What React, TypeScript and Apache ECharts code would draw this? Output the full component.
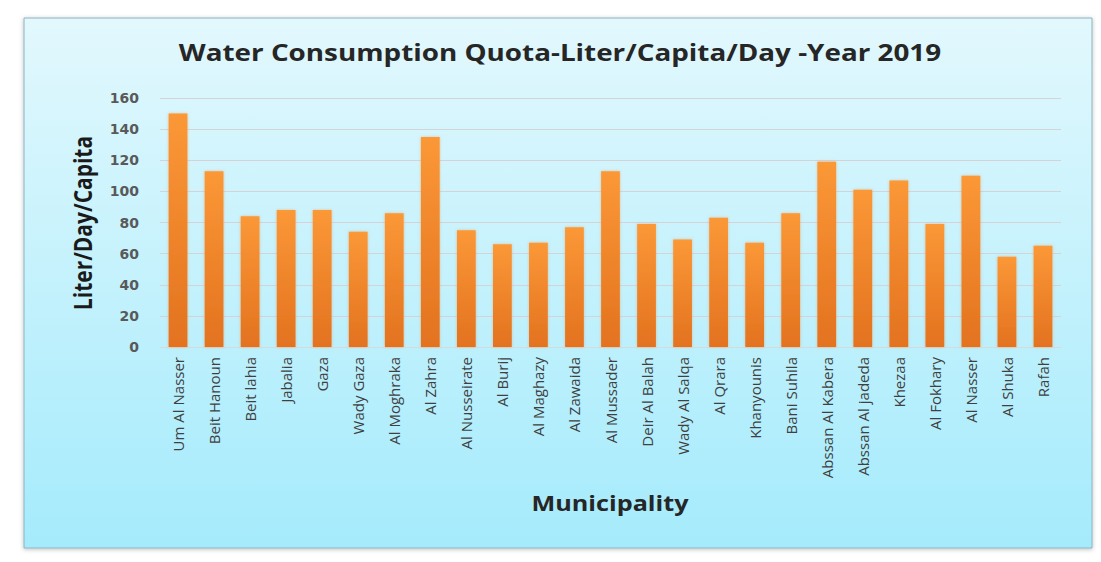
import React, { useEffect, useRef } from "react";
import * as echarts from "echarts";

const categories = [
  "Um Al Nasser", "Beit Hanoun", "Beit lahia", "Jabalia", "Gaza", "Wady Gaza",
  "Al Moghraka", "Al Zahra", "Al Nusseirate", "Al Burij", "Al Maghazy", "Al Zawaida",
  "Al Mussader", "Deir Al Balah", "Wady Al Salqa", "Al Qrara", "Khanyounis",
  "Bani Suhila", "Abssan Al Kabera", "Abssan Al jadeda", "Khezaa", "Al Fokhary",
  "Al Nasser", "Al Shuka", "Rafah",
];
const quota = [
  150, 113, 84, 88, 88, 74, 86, 135, 75, 66, 67, 77, 113, 79, 69,
  83, 67, 86, 119, 101, 107, 79, 110, 58, 65,
];
const yTicks = { min: 0, max: 160, interval: 20 };

const titleText = "Water Consumption Quota-Liter/Capita/Day -Year 2019";
const yName = "Liter/Day/Capita";
const xName = "Municipality";

export default function App() {
  const ref = useRef<HTMLDivElement>(null);
  useEffect(() => {
    if (!ref.current) return;
    const chart = echarts.init(ref.current, null, { renderer: "svg" });
    const font = "'Open Sans', sans-serif";
    chart.setOption({
      animation: false,
      backgroundColor: "#ffffff",
      textStyle: { fontFamily: font },
      graphic: [
        {
          type: "rect",
          z: -10,
          silent: true,
          shape: { x: 24, y: 18, width: 1068, height: 530 },
          style: {
            fill: new echarts.graphic.LinearGradient(0, 0, 0, 1, [
              { offset: 0, color: "#e2f8fd" },
              { offset: 1, color: "#a5ebfc" },
            ]),
            stroke: "#8ab4c2",
            lineWidth: 1,
            shadowBlur: 4,
            shadowColor: "rgba(0,0,0,0.25)",
            shadowOffsetY: 1,
          },
        },
        {
          type: "text",
          x: 560,
          y: 52,
          scaleX: 1.21,
          silent: true,
          style: {
            text: titleText,
            fontFamily: font,
            fontSize: 23,
            fontWeight: "bold",
            fill: "#262626",
            textAlign: "center",
            textVerticalAlign: "middle",
          },
        },
        {
          type: "text",
          x: 610,
          y: 503,
          scaleX: 1.2,
          silent: true,
          style: {
            text: xName,
            fontFamily: font,
            fontSize: 21,
            fontWeight: "bold",
            fill: "#262626",
            textAlign: "center",
            textVerticalAlign: "middle",
          },
        },
        {
          type: "text",
          x: 83,
          y: 223,
          rotation: Math.PI / 2,
          scaleY: 1.15,
          silent: true,
          style: {
            text: yName,
            fontFamily: font,
            fontSize: 21,
            fontWeight: "bold",
            fill: "#1a1a1a",
            textAlign: "center",
            textVerticalAlign: "middle",
          },
        },
      ],
      grid: { left: 160, right: 40, top: 98, bottom: 215 },
      xAxis: {
        type: "category",
        data: categories,
        axisLine: { show: true, lineStyle: { color: "#d9d9d9" } },
        axisTick: { show: false },
        axisLabel: {
          rotate: 90,
          interval: 0,
          fontSize: 15,
          color: "#404040",
          margin: 10,
          fontFamily: font,
        },
      },
      yAxis: {
        type: "value",
        min: yTicks.min,
        max: yTicks.max,
        interval: yTicks.interval,
        axisLine: { show: false },
        axisTick: { show: false },
        axisLabel: {
          fontSize: 14,
          fontWeight: "bold",
          color: "#595959",
          margin: 21,
          fontFamily: "'DejaVu Sans', sans-serif",
        },
        splitLine: { lineStyle: { color: "#d6d3d8", width: 1 } },
      },
      series: [
        {
          type: "bar",
          data: quota,
          barWidth: "52%",
          itemStyle: {
            color: new echarts.graphic.LinearGradient(0, 0, 0, 1, [
              { offset: 0, color: "#fb9837" },
              { offset: 1, color: "#e3721f" },
            ]),
            shadowBlur: 3,
            shadowColor: "rgba(240,140,60,0.5)",
          },
        },
      ],
    });
    return () => chart.dispose();
  }, []);
  return (
    <div
      ref={ref}
      style={{ position: "fixed", left: 0, top: 0, width: 1101, height: 562 }}
    />
  );
}
